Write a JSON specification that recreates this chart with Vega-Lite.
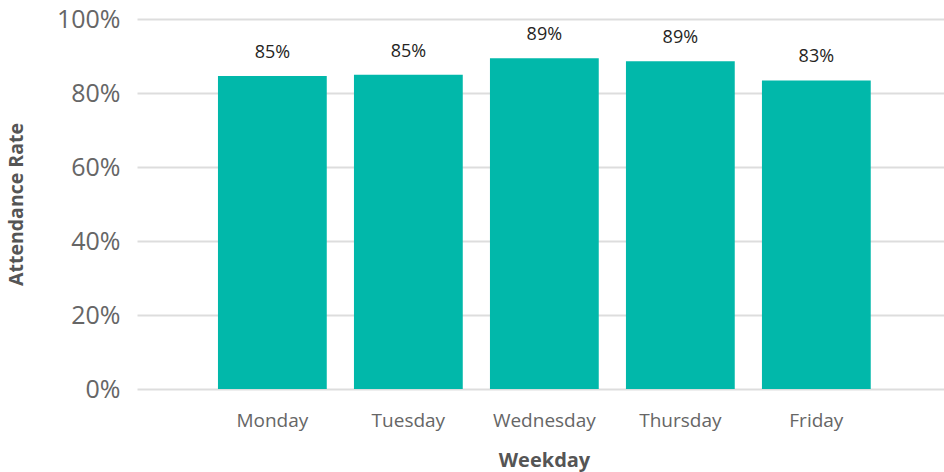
{
  "$schema": "https://vega.github.io/schema/vega-lite/v6.json",
  "width": 807,
  "height": 370,
  "autosize": {"type": "none"},
  "padding": {"left": 137, "top": 19, "right": 0, "bottom": 83},
  "background": "white",
  "config": {
    "view": {"stroke": null},
    "font": "Open Sans"
  },
  "data": {
    "values": [
      {"Weekday": "Monday", "Rate": 0.846},
      {"Weekday": "Tuesday", "Rate": 0.849},
      {"Weekday": "Wednesday", "Rate": 0.894},
      {"Weekday": "Thursday", "Rate": 0.886},
      {"Weekday": "Friday", "Rate": 0.834}
    ]
  },
  "encoding": {
    "x": {
      "field": "Weekday",
      "type": "nominal",
      "sort": null,
      "scale": {"paddingInner": 0.2, "paddingOuter": 0.567, "align": 0.525},
      "axis": {
        "title": "Weekday",
        "labelAngle": 0,
        "labelFontSize": 19,
        "labelColor": "#666666",
        "labelPadding": 22,
        "ticks": false,
        "domain": false,
        "titleFontSize": 20,
        "titleFontWeight": "bold",
        "titleColor": "#555555",
        "titleX": 407,
        "titleY": 77,
        "titleBaseline": "alphabetic"
      }
    },
    "y": {
      "field": "Rate",
      "type": "quantitative",
      "scale": {"domain": [0, 1]},
      "axis": {
        "title": "Attendance Rate",
        "format": ".0%",
        "values": [0, 0.2, 0.4, 0.6, 0.8, 1],
        "labelFontSize": 25,
        "labelColor": "#666666",
        "labelPadding": 17,
        "ticks": false,
        "domain": false,
        "gridColor": "#dddddd",
        "gridWidth": 2,
        "titleFontSize": 19.5,
        "titleFontWeight": "bold",
        "titleColor": "#555555",
        "titleX": -111,
        "titleY": 185,
        "titleAngle": -90,
        "titleBaseline": "bottom",
        "titleAlign": "center"
      }
    }
  },
  "layer": [
    {"mark": {"type": "bar", "color": "#01B8AA"}},
    {
      "mark": {"type": "text", "fontSize": 18, "color": "#252423", "baseline": "alphabetic", "dy": -18},
      "encoding": {"text": {"field": "Rate", "type": "quantitative", "format": ".0%"}}
    }
  ]
}
